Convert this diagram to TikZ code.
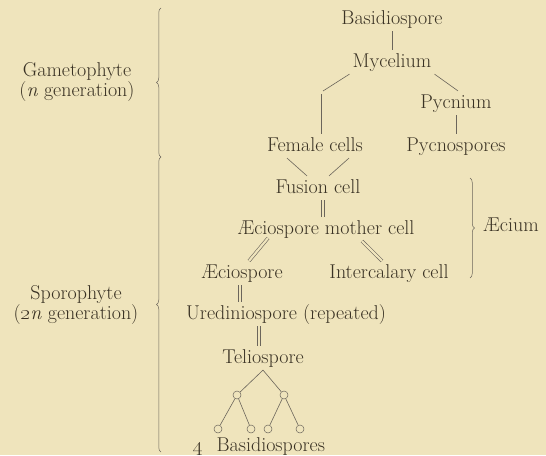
\documentclass[tikz,border=0pt]{standalone}
\usepackage{tikz}
\usetikzlibrary{decorations.pathreplacing}
\definecolor{paper}{RGB}{239,228,188}
\definecolor{ink}{RGB}{58,50,36}
\tikzset{
  stage/.style={
    text=ink, font=\fontsize{20}{18.5}\selectfont, inner sep=3pt,
    text height=13.9pt, text depth=3.9pt
  },
  side label/.style={
    text=ink, font=\fontsize{20}{18.5}\selectfont, align=center, inner sep=0pt
  },
  spore dot/.style={
    circle, draw=ink!75, line width=0.5pt, inner sep=0pt, minimum size=8pt
  },
  link/.style={draw=ink!75, line width=0.6pt},
  double link/.style={
    draw=ink!75, line width=0.6pt, double=paper, double distance=2.2pt
  },
  phase brace/.style={
    draw=ink!75, line width=0.5pt, decorate, decoration={brace, amplitude=4.5pt}
  }
}

\begin{document}
\begin{tikzpicture}[x=1pt, y=-1pt]
\useasboundingbox (0,0) rectangle (546,455);
\fill[paper] (0,0) rectangle (546,455);

% 配子体部分
\node[stage] (basid) at (392,19)  {Basidiospore};
\node[stage] (myc)   at (392,62)  {Mycelium};
\node[stage] (pycn)  at (456,103) {Pycnium};
\node[stage] (pycs)  at (456,146) {Pycnospores};
\node[stage] (fem)   at (315,146) {Female cells};
\coordinate (knee top) at (323,91);
\coordinate (knee low) at (321,94);

\draw[link] (basid) -- (myc);
\draw[link] (myc.south west) -- (knee top);
\draw[link] (knee low) -- (knee low |- fem.north);
\draw[link] (myc.south east) -- ([xshift=2pt]pycn.north);
\draw[link] (pycn) -- (pycs);

% 锈子器部分
\node[stage] (fus)    at (318,188) {Fusion cell};
\node[stage] (aemc)   at (326,229) {Æciospore mother cell};
\node[stage] (aesp)   at (242,273) {Æciospore};
\node[stage] (inter)  at (389,273) {Intercalary cell};
\node[stage] (aecium) at (511,226) {Æcium};

\draw[link] ([xshift=-28pt]fem.south) -- ([xshift=-11pt]fus.north);
\draw[link] ([xshift=34pt]fem.south) -- ([xshift=11pt]fus.north);
\draw[double link] ([xshift=5pt]fus.south) -- ([xshift=-3pt]aemc.north);
\draw[double link] ([xshift=-58pt,yshift=3pt]aemc.south) -- ([xshift=7pt]aesp.north);
\draw[double link] ([xshift=36pt]aemc.south) -- ([xshift=-7pt]inter.north);

% 孢子体部分
\node[stage] (ured)  at (286,314) {Urediniospore (repeated)};
\node[stage] (telio) at (263,358) {Teliospore};
\node[spore dot] (c1) at (237,395) {};
\node[spore dot] (c2) at (284,395) {};
\node[spore dot] (c3) at (218,429) {};
\node[spore dot] (c4) at (251,429) {};
\node[spore dot] (c5) at (268,429) {};
\node[spore dot] (c6) at (300,429) {};
\node[stage] (basids) at (259,446) {\oldstylenums{4}\hspace{0.7em}Basidiospores};

\draw[double link] ([xshift=-2pt]aesp.south) -- ([xshift=-46pt]ured.north);
\draw[double link] ([xshift=-27pt]ured.south) -- ([xshift=-4pt]telio.north);
\draw[link] (telio.south) -- (c1);
\draw[link] (telio.south) -- (c2);
\draw[link] (c1) -- (c3);
\draw[link] (c1) -- (c4);
\draw[link] (c2) -- (c5);
\draw[link] (c2) -- (c6);

% 左侧世代标注与括号
\node[side label] (gam)  at (77,82)  {Gametophyte\\(\textit{n} generation)};
\node[side label] (spor) at (76,305) {Sporophyte\\(\oldstylenums{2}\textit{n} generation)};
\coordinate (gtop) at (161,8);
\coordinate (gbot) at (161,157);
\coordinate (sbot) at (161,452);
\coordinate (atop) at (470,178);
\coordinate (abot) at (470,278);

\draw[phase brace] (gbot) -- (gtop);
\draw[phase brace] (sbot) -- (gbot);
\draw[phase brace] (atop) -- (abot);

\end{tikzpicture}
\end{document}
